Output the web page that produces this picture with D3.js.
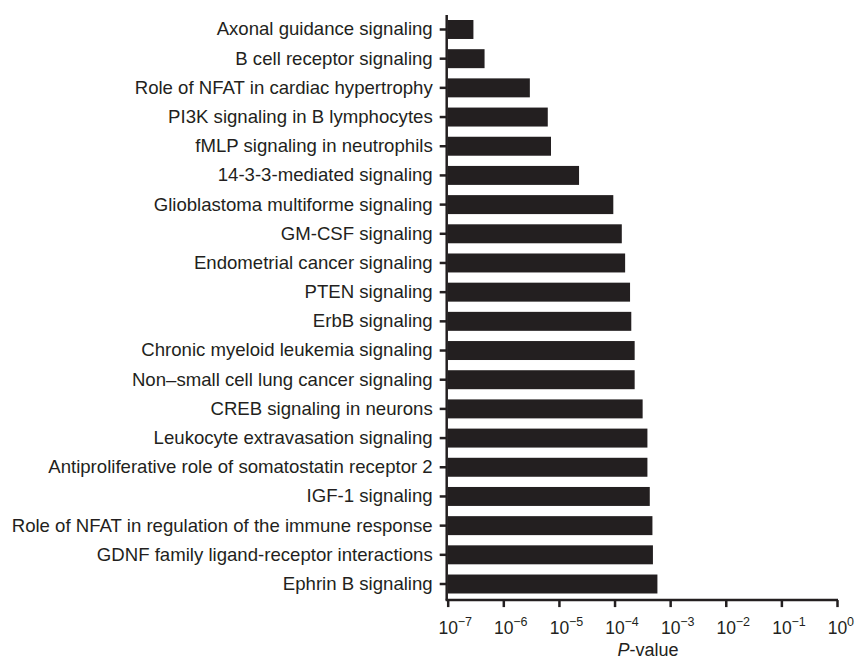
<!DOCTYPE html>
<html>
<head>
<meta charset="utf-8">
<script src="https://cdn.jsdelivr.net/npm/d3@7"></script>
<style>
  body { margin: 0; background: #fff; }
  svg { display: block; }
  text { font-family: "Liberation Sans", Arial, Helvetica, sans-serif; fill: #231f20; }
</style>
</head>
<body>
<svg id="chart" width="855" height="661"></svg>
<script>
const categories = [
  "Axonal guidance signaling",
  "B cell receptor signaling",
  "Role of NFAT in cardiac hypertrophy",
  "PI3K signaling in B lymphocytes",
  "fMLP signaling in neutrophils",
  "14-3-3-mediated signaling",
  "Glioblastoma multiforme signaling",
  "GM-CSF signaling",
  "Endometrial cancer signaling",
  "PTEN signaling",
  "ErbB signaling",
  "Chronic myeloid leukemia signaling",
  "Non\u2013small cell lung cancer signaling",
  "CREB signaling in neurons",
  "Leukocyte extravasation signaling",
  "Antiproliferative role of somatostatin receptor 2",
  "IGF-1 signaling",
  "Role of NFAT in regulation of the immune response",
  "GDNF family ligand-receptor interactions",
  "Ephrin B signaling"
];
const pValues = [
  2.9e-7, 4.6e-7, 3.0e-6, 6.3e-6, 7.2e-6, 2.3e-5, 9.5e-5,
  1.35e-4, 1.55e-4, 1.9e-4, 2.0e-4, 2.3e-4, 2.3e-4,
  3.2e-4, 3.9e-4, 3.9e-4, 4.3e-4, 4.8e-4, 4.9e-4, 5.9e-4
];
const tickValues = [1e-7, 1e-6, 1e-5, 1e-4, 1e-3, 1e-2, 1e-1, 1e0];
const tickExponents = ["\u22127", "\u22126", "\u22125", "\u22124", "\u22123", "\u22122", "\u22121", "0"];

const ink = "#231f20";
const svg = d3.select("#chart");
const mLeft = 447.7, mRight = 837, mTop = 14.9, mBottom = 598.6;

const x = d3.scaleLog().domain([1e-7, 1]).range([mLeft, mRight]);
const y = d3.scaleBand().domain(categories).range([mTop, mBottom]).paddingInner(0.35).paddingOuter(0.175);

// bars
svg.append("g").selectAll("rect")
  .data(categories)
  .join("rect")
  .attr("x", x(1e-7))
  .attr("y", d => y(d))
  .attr("width", (d, i) => x(pValues[i]) - x(1e-7))
  .attr("height", y.bandwidth())
  .attr("fill", ink);

// y axis
const yAxis = svg.append("g")
  .attr("transform", `translate(${mLeft - 1},0)`)
  .call(d3.axisLeft(y).tickSize(7).tickPadding(7).tickSizeOuter(0));
yAxis.select(".domain").attr("stroke", ink).attr("stroke-width", 2.5)
  .attr("d", `M0,${mTop}V${mBottom + 2}`);
yAxis.selectAll(".tick line").attr("stroke", ink).attr("stroke-width", 2.5);
yAxis.selectAll(".tick text").attr("font-size", 18.6).attr("fill", ink)
  .style("font-family", "'Liberation Sans', Arial, sans-serif");

// x axis
const xAxis = svg.append("g")
  .attr("transform", `translate(0,${mBottom + 1.5})`)
  .call(d3.axisBottom(x).tickValues(tickValues).tickSize(7).tickSizeOuter(0).tickFormat(""));
xAxis.select(".domain").attr("stroke", ink).attr("stroke-width", 2.5)
  .attr("d", `M${mLeft - 2},0H${mRight + 1}`);
xAxis.selectAll(".tick line").attr("stroke", ink).attr("stroke-width", 2.5);

const ticks = xAxis.selectAll(".tick");
ticks.append("text")
  .attr("y", 34)
  .attr("text-anchor", "middle")
  .attr("font-size", 17.5)
  .attr("fill", ink)
  .text("10");
ticks.append("text")
  .attr("x", 9.5)
  .attr("y", 25.5)
  .attr("text-anchor", "start")
  .attr("font-size", 12.5)
  .attr("fill", ink)
  .text((d, i) => tickExponents[i]);

// x label
const xl = svg.append("text")
  .attr("x", 648)
  .attr("y", 656)
  .attr("text-anchor", "middle")
  .attr("font-size", 18)
  .attr("fill", ink);
xl.append("tspan").attr("font-style", "italic").text("P");
xl.append("tspan").text("-value");
</script>
</body>
</html>
